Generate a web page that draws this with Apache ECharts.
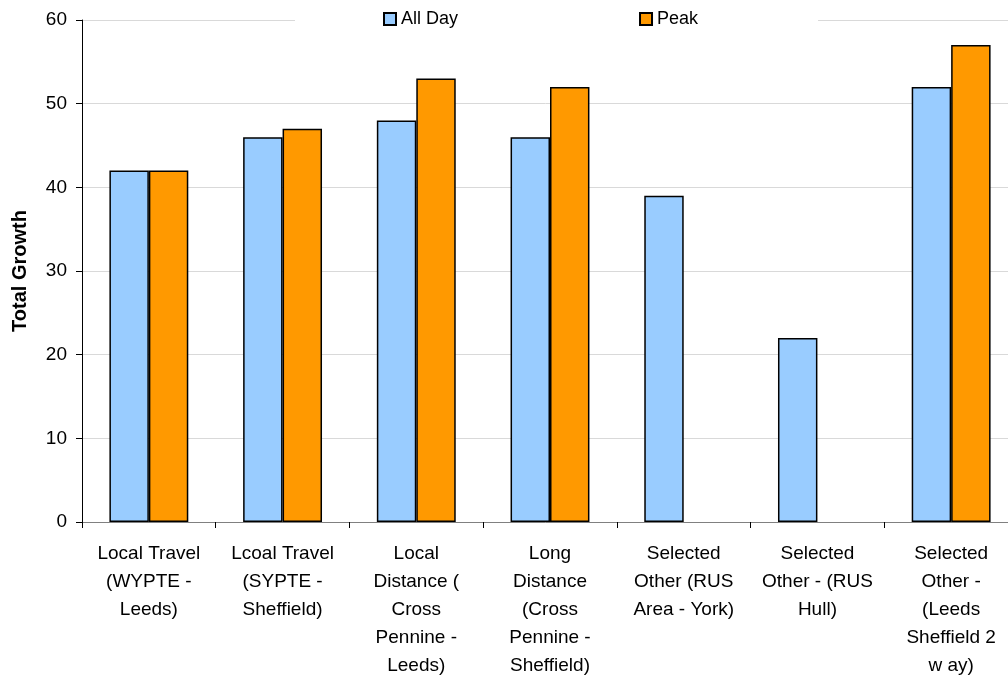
<!DOCTYPE html>
<html><head><meta charset="utf-8">
<script src="https://cdn.jsdelivr.net/npm/echarts@6/dist/echarts.min.js"></script>
<style>html,body{margin:0;padding:0;background:#fff}#c{width:1008px;height:675px}</style>
</head><body><div id="c"></div>
<script>
const categories = [
  "Local Travel\n(WYPTE -\nLeeds)",
  "Lcoal Travel\n(SYPTE -\nSheffield)",
  "Local\nDistance (\nCross\nPennine -\nLeeds)",
  "Long\nDistance\n(Cross\nPennine -\nSheffield)",
  "Selected\nOther (RUS\nArea - York)",
  "Selected\nOther - (RUS\nHull)",
  "Selected\nOther -\n(Leeds\nSheffield 2\nw ay)"
];
const allDay = [42, 46, 48, 46, 39, 22, 52];
const peak = [42, 47, 53, 52, null, null, 57];
const yTicks = {min: 0, max: 60, interval: 10};

const font = "'Liberation Sans', Arial, sans-serif";
const chart = echarts.init(document.getElementById('c'), null, {renderer: 'canvas'});
chart.setOption({
  animation: false,
  textStyle: {fontFamily: font, color: '#000'},
  grid: {left: 82, top: 20, height: 502, width: 936, containLabel: false, outerBoundsMode: 'none'},
  legend: {
    left: 295, top: 6,
    padding: [4, 120, 4, 88],
    itemGap: 181,
    itemWidth: 12, itemHeight: 12,
    backgroundColor: '#fff',
    textStyle: {fontFamily: font, fontSize: 18, color: '#000'},
    data: [{name: 'All Day', icon: 'rect'}, {name: 'Peak', icon: 'rect'}]
  },
  xAxis: {
    type: 'category',
    data: categories,
    axisLine: {lineStyle: {color: '#808080', width: 1}},
    axisTick: {show: true, alignWithLabel: false, length: 6, lineStyle: {color: '#000'}},
    axisLabel: {interval: 0, fontSize: 19, lineHeight: 28, color: '#000', margin: 18, fontFamily: font}
  },
  yAxis: {
    type: 'value',
    min: yTicks.min, max: yTicks.max, interval: yTicks.interval,
    name: 'Total Growth',
    nameLocation: 'middle',
    nameGap: 52,
    nameTextStyle: {fontSize: 20, fontWeight: 'bold', color: '#000', fontFamily: font},
    axisLine: {show: true, lineStyle: {color: '#000', width: 1}},
    axisTick: {show: true, length: 6, lineStyle: {color: '#000'}},
    axisLabel: {fontSize: 19, color: '#000', margin: 15, fontFamily: font},
    splitLine: {show: true, lineStyle: {color: '#d9d9d9', width: 1}}
  },
  series: [
    {name: 'All Day', type: 'bar', data: allDay, barGap: '0%', barCategoryGap: '41%',
     itemStyle: {color: '#99CCFF', borderColor: '#000', borderWidth: 1.5}},
    {name: 'Peak', type: 'bar', data: peak, barGap: '0%', barCategoryGap: '41%',
     itemStyle: {color: '#FF9900', borderColor: '#000', borderWidth: 1.5}}
  ]
});
</script></body></html>
